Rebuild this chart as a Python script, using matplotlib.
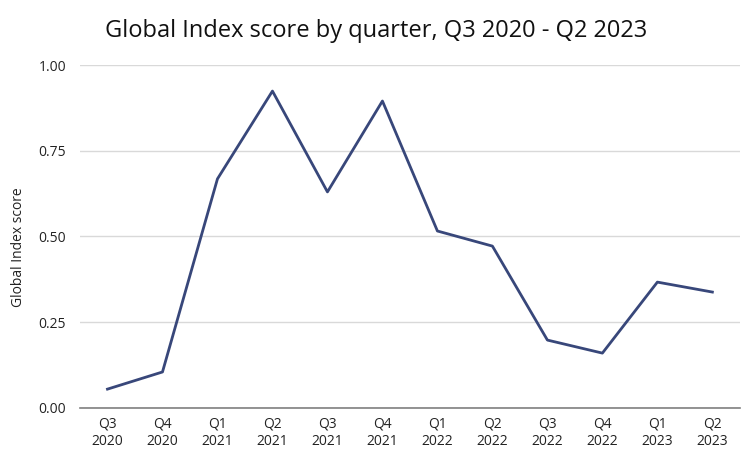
import matplotlib.pyplot as plt

quarters = ['Q3\n2020', 'Q4\n2020', 'Q1\n2021', 'Q2\n2021', 'Q3\n2021', 'Q4\n2021',
            'Q1\n2022', 'Q2\n2022', 'Q3\n2022', 'Q4\n2022', 'Q1\n2023', 'Q2\n2023']
scores = [0.055, 0.105, 0.668, 0.924, 0.630, 0.895,
          0.516, 0.472, 0.198, 0.160, 0.367, 0.338]
yticks = [0.0, 0.25, 0.5, 0.75, 1.0]

plt.rcParams['font.family'] = ['Open Sans', 'DejaVu Sans']

fig = plt.figure(figsize=(7.49, 4.66), dpi=100)
ax = fig.add_axes([0.1068, 0.1245, 0.881, 0.736])

x = list(range(len(quarters)))
ax.plot(x, scores, color='#38477a', linewidth=2)

ax.set_xlim(-0.5, len(quarters) - 0.5)
ax.set_ylim(0, 1.0)
ax.set_yticks(yticks)
ax.set_yticklabels([f'{v:.2f}' for v in yticks])
ax.set_xticks(x)
ax.set_xticklabels(quarters)
ax.yaxis.grid(True, color='#d9d9d9', linewidth=1)
ax.set_axisbelow(True)
ax.tick_params(length=0, labelsize=10, colors='#222222')
ax.tick_params(axis='y', pad=10)
ax.tick_params(axis='x', pad=6)
for s in ['top', 'right', 'left']:
    ax.spines[s].set_visible(False)
ax.spines['bottom'].set_color('#808080')
ax.spines['bottom'].set_linewidth(1.2)

ax.set_ylabel('Global Index score', fontsize=10, color='#222222')
ax.yaxis.set_label_coords(-0.082, 0.469)
fig.suptitle('Global Index score by quarter, Q3 2020 - Q2 2023',
             x=0.502, y=0.96, fontsize=17, color='#111111')

plt.savefig('out.png', dpi=100)
